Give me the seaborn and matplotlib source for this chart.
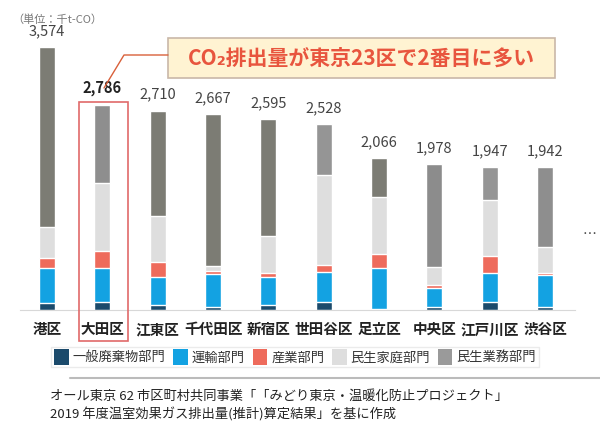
import numpy as np
import pandas as pd
import matplotlib
matplotlib.use('Agg')
import matplotlib.pyplot as plt
from matplotlib.patches import Patch, Rectangle
import seaborn as sns

# データ（単位：千t-CO2）
districts = ['港区', '大田区', '江東区', '千代田区', '新宿区', '世田谷区', '足立区', '中央区', '江戸川区', '渋谷区']
totals = [3574, 2786, 2710, 2667, 2595, 2528, 2066, 1978, 1947, 1942]
waste = [95, 109, 68, 40, 68, 109, 20, 41, 109, 41]          # 一般廃棄物部門
transport = [476, 462, 380, 448, 380, 408, 550, 258, 394, 435]  # 運輸部門
industry = [136, 231, 204, 41, 54, 95, 190, 41, 231, 27]     # 産業部門
household = [421, 924, 625, 68, 503, 1223, 775, 245, 761, 353]  # 民生家庭部門
sectors = ['一般廃棄物部門', '運輸部門', '産業部門', '民生家庭部門', '民生業務部門']
sector_colors = ['#1b4a6b', '#13a2e2', '#ee6b5c', '#dedede', '#9a9a9a']
commercial_colors = ['#7c7c74', '#8e8e8e', '#7c7c74', '#7c7c74', '#7c7c74',
                     '#959595', '#7c7c74', '#8c8c8c', '#959595', '#8e8e8e']

sns.set_theme(style='white')
plt.rcParams['font.family'] = ['Noto Sans CJK JP', 'DejaVu Sans']

df = pd.DataFrame({'区': districts, 'total': totals, 'waste': waste,
                   'transport': transport, 'industry': industry, 'household': household})
df['c1'] = df['waste']
df['c2'] = df['c1'] + df['transport']
df['c3'] = df['c2'] + df['industry']
df['c4'] = df['c3'] + df['household']

fig = plt.figure(figsize=(6, 4.23), dpi=100)
W, H = 600, 423
# 軸の位置（ピクセル基準）
ax = fig.add_axes([20 / W, 1 - 310 / H, 555 / W, 280 / H])

bw = 0.29
sns.barplot(data=df, x='区', y='total', hue='区', palette=commercial_colors,
            width=bw, saturation=1, legend=False, ax=ax)
for col, colr in [('c4', sector_colors[3]), ('c3', sector_colors[2]),
                  ('c2', sector_colors[1]), ('c1', sector_colors[0])]:
    sns.barplot(data=df, x='区', y=col, color=colr, width=bw, saturation=1, ax=ax)

ax.set_xlim(-0.488, 9.54)
ax.set_ylim(0, 280 * 3574 / 263)
ax.set_xlabel('')
ax.set_ylabel('')
ax.set_yticks([])
ax.tick_params(axis='x', length=0, pad=8, labelsize=10.5, labelcolor='#222222')
for lab in ax.get_xticklabels():
    lab.set_fontweight('bold')
for s in ['top', 'right', 'left']:
    ax.spines[s].set_visible(False)
ax.spines['bottom'].set_color('#d8d8d8')
ax.spines['bottom'].set_linewidth(0.8)

# 値ラベル
for i, t in enumerate(totals):
    ax.text(i, t + 120, f'{t:,}', ha='center', va='bottom', fontsize=10.5,
            color='#222222' if i == 1 else '#444444',
            fontweight='bold' if i == 1 else 'normal')

# 大田区の枠
fig.patches.append(Rectangle((79 / W, 1 - 341 / H), 49 / W, 239 / H,
                             transform=fig.transFigure, fill=False,
                             edgecolor='#e06a6a', linewidth=1.2))

# 吹き出し
fig.patches.append(Rectangle((168 / W, 1 - 78 / H), 387 / W, 40 / H,
                             transform=fig.transFigure, facecolor='#fff3d2',
                             edgecolor='#c9b8a8', linewidth=1.2))
fig.text(361 / W, 1 - 58 / H, 'CO₂排出量が東京23区で2番目に多い', ha='center', va='center',
         fontsize=15, fontweight='bold', color='#e8553e')
fig.add_artist(plt.Line2D([168 / W, 124 / W, 104 / W], [1 - 55 / H, 1 - 55 / H, 1 - 88 / H],
                          transform=fig.transFigure, color='#d9603a', linewidth=1))

fig.text(12 / W, 1 - 20 / H, '（単位：千t-CO）', fontsize=8, color='#777777', va='center')
fig.text(590 / W, 1 - 235 / H, '…', fontsize=10, color='#444444', ha='center', va='center')

# 凡例
handles = [Patch(facecolor=c, edgecolor='none') for c in sector_colors]
fig.legend(handles, sectors, loc='center', bbox_to_anchor=(295 / W, 1 - 357 / H), ncol=5,
           fontsize=9.5, frameon=True, edgecolor='#e6e6e6', fancybox=False,
           handlelength=1.1, handleheight=1.4, handletextpad=0.3, columnspacing=0.6,
           borderpad=0.2, labelcolor='#333333')

fig.add_artist(plt.Line2D([70 / W, 1.0], [1 - 378 / H, 1 - 378 / H],
                          transform=fig.transFigure, color='#bbbbbb', linewidth=1.5))

fig.text(50 / W, 1 - 396 / H, 'オール東京 62 市区町村共同事業「「みどり東京・温暖化防止プロジェクト」',
         fontsize=9.5, color='#222222', va='center')
fig.text(50 / W, 1 - 414 / H, '2019 年度温室効果ガス排出量(推計)算定結果」を基に作成',
         fontsize=9.5, color='#222222', va='center')

fig.savefig('out.png', dpi=100)
